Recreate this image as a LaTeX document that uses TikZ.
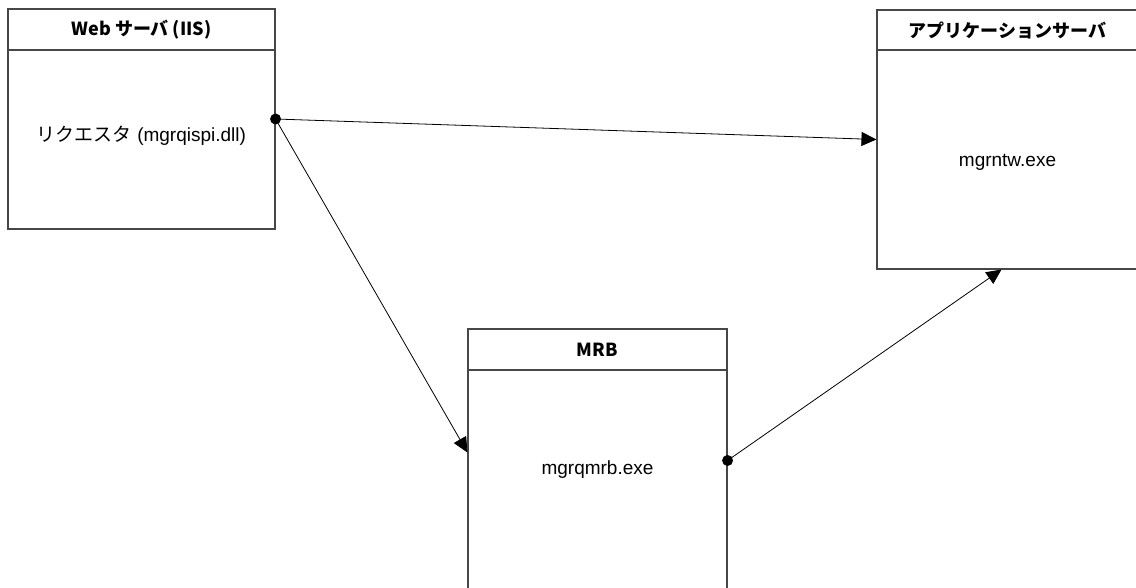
\documentclass[tikz,border=0pt]{standalone}
\usepackage{fontspec}
\setmainfont{Liberation Sans}
\newfontfamily\jp{Noto Sans CJK JP}
\usetikzlibrary{arrows.meta}
\begin{document}
\begin{tikzpicture}[x=1pt,y=-1pt,
  box/.style={draw=black!72, line width=1.1pt, fill=white, rectangle, inner sep=0pt},
  hdr/.style={draw=black!72, line width=1.1pt},
  title/.style={font=\jp\bfseries\fontsize{18}{21}\selectfont, inner sep=0pt},
  body/.style={font=\fontsize{19}{22}\selectfont, inner sep=0pt},
  link/.style={draw=black, line width=0.8pt},
  arr/.style={-{Triangle[length=15pt,width=14pt]}},
  dot/.style={circle, fill=black, inner sep=0pt, minimum size=11pt}
]
\useasboundingbox (0,0) rectangle (1136,588);
\fill[white] (0,0) rectangle (1136,588);

% component boxes
\node[box, minimum width=267pt, minimum height=220pt] (web) at (141.5,119) {};
\node[box, minimum width=261pt, minimum height=259pt] (app) at (1007.5,139.5) {};
\node[box, minimum width=259pt, minimum height=263pt] (mrb) at (597.5,460.5) {};

% header separators
\draw[hdr] (web.west |- 0,50) -- (web.east |- 0,50);
\draw[hdr] (app.west |- 0,50) -- (app.east |- 0,50);
\draw[hdr] (mrb.west |- 0,370) -- (mrb.east |- 0,370);

% titles
\node[title] (webtitle) at (141.5,29.5) {Web サーバ (IIS)};
\node[title] (apptitle) at (1007.5,30) {アプリケーションサーバ};
\node[title] (mrbtitle) at (597.5,349.5) {MRB};

% contents
\node[body] (webbody) at (141.5,136) {{\jp リクエスタ} (mgrqispi.dll)};
\node[body] (appbody) at (1007.5,162) {mgrntw.exe};
\node[body] (mrbbody) at (597.5,470) {mgrqmrb.exe};

% connectors
\node[dot] (d1) at (web.east) {};
\node[dot] (d2) at (mrb.east) {};
\draw[link,arr] (d1.center) -- (app.west);
\draw[link,arr] (d1.center) -- ([yshift=8pt]mrb.west);
\draw[link,arr] (d2.center) -- ([xshift=-6pt]app.south);
\end{tikzpicture}
\end{document}
